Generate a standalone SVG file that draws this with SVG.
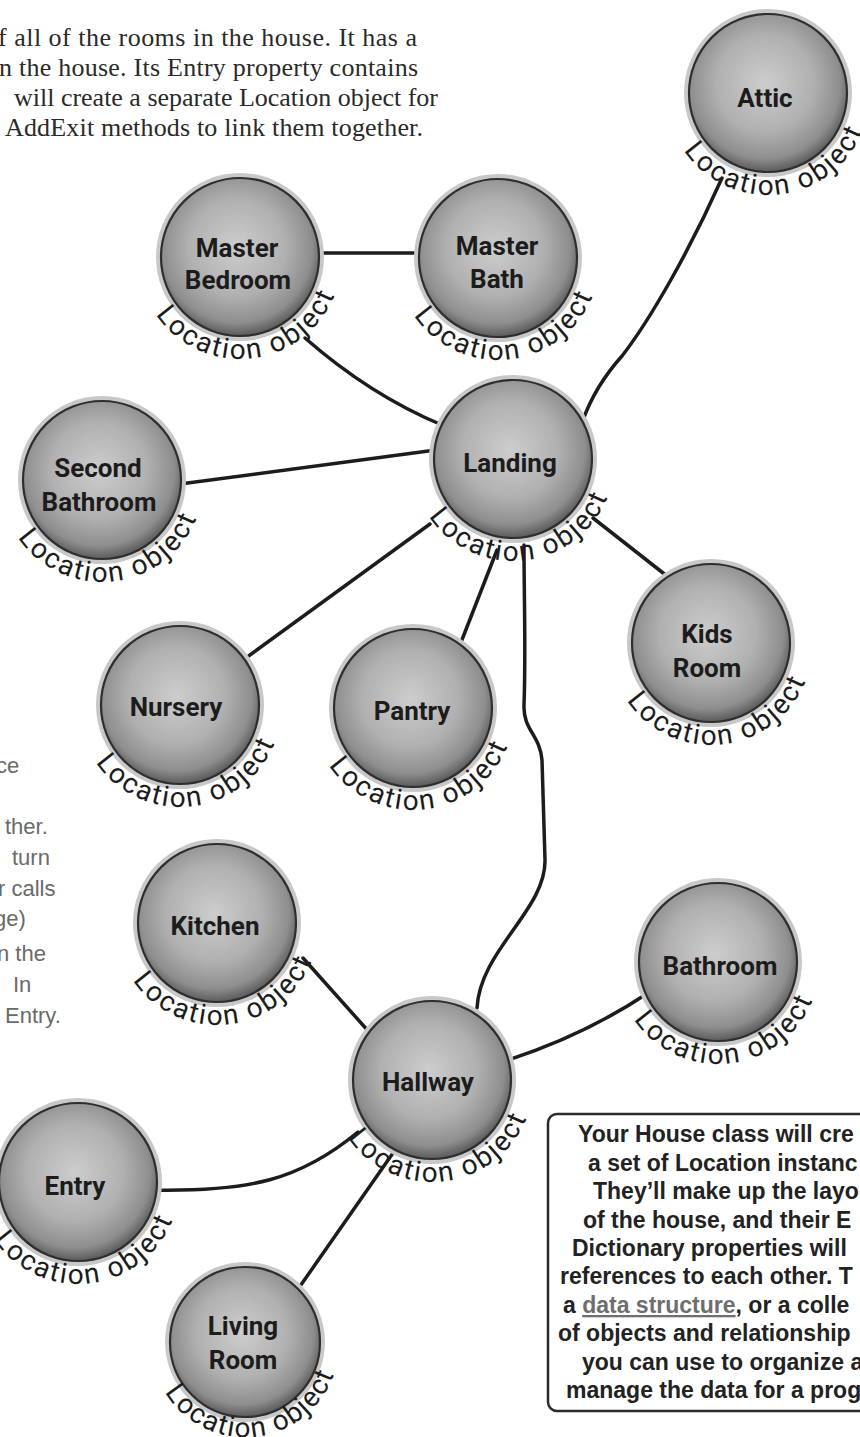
<svg xmlns="http://www.w3.org/2000/svg" width="860" height="1437" viewBox="0 0 860 1437">
<style>
.hdr{font-family:"Liberation Serif",serif;font-size:26px;fill:#2a2a2a}
.hand{font-family:"Liberation Sans",sans-serif;font-size:22px;fill:#6a6a6a}
.halo{fill:#c8c8c8}
.ball{fill:url(#ball);stroke:#2e2e2e;stroke-width:2.2}
.lbl{font-family:Roboto,"Liberation Sans",sans-serif;font-weight:bold;font-size:26px;fill:#1c1c1c;text-anchor:middle}
.loc{font-family:Roboto,"Liberation Sans",sans-serif;font-size:28px;fill:#1c1c1c;text-anchor:middle}
.edge{fill:none;stroke:#1c1c1c;stroke-width:3.5;stroke-linecap:round;stroke-linejoin:round}
.box{fill:#fff;stroke:#2a2a2a;stroke-width:2.5}
.btx{font-family:"Liberation Sans",sans-serif;font-weight:bold;font-size:23px;fill:#222}
.ul{fill:#6e6e6e;text-decoration:underline}
</style>
<defs>
<radialGradient id="ball" cx="48%" cy="44%" r="56%">
<stop offset="0" stop-color="#cdcdcd"/>
<stop offset="0.55" stop-color="#b0b0b0"/>
<stop offset="0.85" stop-color="#8e8e8e"/>
<stop offset="1" stop-color="#5a5a5a"/>
</radialGradient>
<path id="arc-attic" d="M679.7 144 A102 102 0 0 0 865 124.5"/>
<path id="arc-mbed" d="M151.7 308 A102 102 0 0 0 337 288.5"/>
<path id="arc-mbath" d="M409.7 309 A102 102 0 0 0 595 289.5"/>
<path id="arc-landing" d="M424.7 510 A102 102 0 0 0 610 490.5"/>
<path id="arc-second" d="M13.7 531 A102 102 0 0 0 199 511.5"/>
<path id="arc-nursery" d="M91.7 756 A102 102 0 0 0 277 736.5"/>
<path id="arc-pantry" d="M324.7 759 A102 102 0 0 0 510 739.5"/>
<path id="arc-kids" d="M622.7 694 A102 102 0 0 0 808 674.5"/>
<path id="arc-kitchen" d="M128.7 974 A102 102 0 0 0 314 954.5"/>
<path id="arc-hallway" d="M343.7 1131 A102 102 0 0 0 529 1111.5"/>
<path id="arc-bathroom" d="M629.7 1013 A102 102 0 0 0 815 993.5"/>
<path id="arc-entry" d="M-10.3 1233 A102 102 0 0 0 175 1213.5"/>
<path id="arc-living" d="M163 1389 A94 94 0 0 0 335 1371"/>
</defs>
<rect width="860" height="1437" fill="#fff"/>

<g id="header">
<text class="hdr" x="-2" y="46" textLength="419" lengthAdjust="spacing">f all of the rooms in the house. It has a</text>
<text class="hdr" x="-1" y="76" textLength="419" lengthAdjust="spacing">n the house. Its Entry property contains</text>
<text class="hdr" x="14" y="106" textLength="424" lengthAdjust="spacing">will create a separate Location object for</text>
<text class="hdr" x="5" y="136" textLength="418" lengthAdjust="spacing">AddExit methods to link them together.</text>
</g>

<g id="handnote">
<text class="hand" x="-4" y="773">ce</text>
<text class="hand" x="5" y="834">ther.</text>
<text class="hand" x="12" y="865">turn</text>
<text class="hand" x="-2" y="896">r calls</text>
<text class="hand" x="-6" y="926">ge)</text>
<text class="hand" x="-3" y="961">n the</text>
<text class="hand" x="13" y="992">In</text>
<text class="hand" x="5" y="1023">Entry.</text>
</g>

<g id="connectors">
<path class="edge" d="M318 253 L422 253"/>
<path class="edge" d="M305 338 Q370 395 442 425"/>
<path class="edge" d="M180 484 Q300 468 436 450"/>
<path class="edge" d="M583 420 C592 395 605 375 622 356 C650 320 690 250 722 178"/>
<path class="edge" d="M593 518 L672 580"/>
<path class="edge" d="M430 524 L243 660"/>
<path class="edge" d="M497 550 L458 650"/>
<path class="edge" d="M524 545 C524 600 526 650 524 705 C523 730 540 735 542 760 L545 860 C546 910 480 950 477 1008"/>
<path class="edge" d="M303 958 L370 1033"/>
<path class="edge" d="M508 1060 Q585 1035 648 993"/>
<path class="edge" d="M150 1190 C250 1192 300 1180 358 1132"/>
<path class="edge" d="M296 1292 L393 1153"/>
</g>

<g id="node-attic">
<circle class="halo" cx="768" cy="93" r="84"/><circle class="ball" cx="768" cy="93" r="79"/>
<text class="lbl" x="765" y="107">Attic</text>
<text class="loc"><textPath href="#arc-attic" startOffset="50%" textLength="220" lengthAdjust="spacing">Location object</textPath></text>
</g>
<g id="node-master-bedroom">
<circle class="halo" cx="240" cy="257" r="84"/><circle class="ball" cx="240" cy="257" r="79"/>
<text class="lbl" x="237" y="257">Master</text><text class="lbl" x="238" y="289">Bedroom</text>
<text class="loc"><textPath href="#arc-mbed" startOffset="50%" textLength="220" lengthAdjust="spacing">Location object</textPath></text>
</g>
<g id="node-master-bath">
<circle class="halo" cx="498" cy="258" r="84"/><circle class="ball" cx="498" cy="258" r="79"/>
<text class="lbl" x="497" y="255">Master</text><text class="lbl" x="497" y="288">Bath</text>
<text class="loc"><textPath href="#arc-mbath" startOffset="50%" textLength="220" lengthAdjust="spacing">Location object</textPath></text>
</g>
<g id="node-landing">
<circle class="halo" cx="513" cy="459" r="84"/><circle class="ball" cx="513" cy="459" r="79"/>
<text class="lbl" x="510" y="472">Landing</text>
<text class="loc"><textPath href="#arc-landing" startOffset="50%" textLength="220" lengthAdjust="spacing">Location object</textPath></text>
</g>
<g id="node-second-bathroom">
<circle class="halo" cx="102" cy="480" r="84"/><circle class="ball" cx="102" cy="480" r="79"/>
<text class="lbl" x="98" y="477">Second</text><text class="lbl" x="99" y="511">Bathroom</text>
<text class="loc"><textPath href="#arc-second" startOffset="50%" textLength="220" lengthAdjust="spacing">Location object</textPath></text>
</g>
<g id="node-nursery">
<circle class="halo" cx="180" cy="705" r="84"/><circle class="ball" cx="180" cy="705" r="79"/>
<text class="lbl" x="176" y="716">Nursery</text>
<text class="loc"><textPath href="#arc-nursery" startOffset="50%" textLength="220" lengthAdjust="spacing">Location object</textPath></text>
</g>
<g id="node-pantry">
<circle class="halo" cx="413" cy="708" r="84"/><circle class="ball" cx="413" cy="708" r="79"/>
<text class="lbl" x="412" y="720">Pantry</text>
<text class="loc"><textPath href="#arc-pantry" startOffset="50%" textLength="220" lengthAdjust="spacing">Location object</textPath></text>
</g>
<g id="node-kids-room">
<circle class="halo" cx="711" cy="643" r="84"/><circle class="ball" cx="711" cy="643" r="79"/>
<text class="lbl" x="707" y="643">Kids</text><text class="lbl" x="707" y="677">Room</text>
<text class="loc"><textPath href="#arc-kids" startOffset="50%" textLength="220" lengthAdjust="spacing">Location object</textPath></text>
</g>
<g id="node-kitchen">
<circle class="halo" cx="217" cy="923" r="84"/><circle class="ball" cx="217" cy="923" r="79"/>
<text class="lbl" x="215" y="935">Kitchen</text>
<text class="loc"><textPath href="#arc-kitchen" startOffset="50%" textLength="220" lengthAdjust="spacing">Location object</textPath></text>
</g>
<g id="node-hallway">
<circle class="halo" cx="432" cy="1080" r="84"/><circle class="ball" cx="432" cy="1080" r="79"/>
<text class="lbl" x="428" y="1091">Hallway</text>
<text class="loc"><textPath href="#arc-hallway" startOffset="50%" textLength="220" lengthAdjust="spacing">Location object</textPath></text>
</g>
<g id="node-bathroom">
<circle class="halo" cx="718" cy="962" r="84"/><circle class="ball" cx="718" cy="962" r="79"/>
<text class="lbl" x="720" y="975">Bathroom</text>
<text class="loc"><textPath href="#arc-bathroom" startOffset="50%" textLength="220" lengthAdjust="spacing">Location object</textPath></text>
</g>
<g id="node-entry">
<circle class="halo" cx="78" cy="1182" r="84"/><circle class="ball" cx="78" cy="1182" r="79"/>
<text class="lbl" x="75" y="1195">Entry</text>
<text class="loc"><textPath href="#arc-entry" startOffset="50%" textLength="220" lengthAdjust="spacing">Location object</textPath></text>
</g>
<g id="node-living-room">
<circle class="halo" cx="245" cy="1342" r="80"/><circle class="ball" cx="245" cy="1342" r="75"/>
<text class="lbl" x="243" y="1335">Living</text><text class="lbl" x="243" y="1369">Room</text>
<text class="loc"><textPath href="#arc-living" startOffset="50%" textLength="212" lengthAdjust="spacing">Location object</textPath></text>
</g>

<g id="note-box">
<rect class="box" x="548" y="1114" width="330" height="297" rx="9"/>
<text class="btx" x="578" y="1142">Your House class will cre</text>
<text class="btx" x="588" y="1171">a set of Location instanc</text>
<text class="btx" x="593" y="1199">They’ll make up the layo</text>
<text class="btx" x="583" y="1228">of the house, and their E</text>
<text class="btx" x="572" y="1256">Dictionary properties will</text>
<text class="btx" x="560" y="1284">references to each other. T</text>
<text class="btx" x="563" y="1313">a <tspan class="ul">data structure</tspan>, or a colle</text>
<text class="btx" x="558" y="1341">of objects and relationship</text>
<text class="btx" x="582" y="1370">you can use to organize a</text>
<text class="btx" x="566" y="1398">manage the data for a prog</text>
</g>
</svg>
